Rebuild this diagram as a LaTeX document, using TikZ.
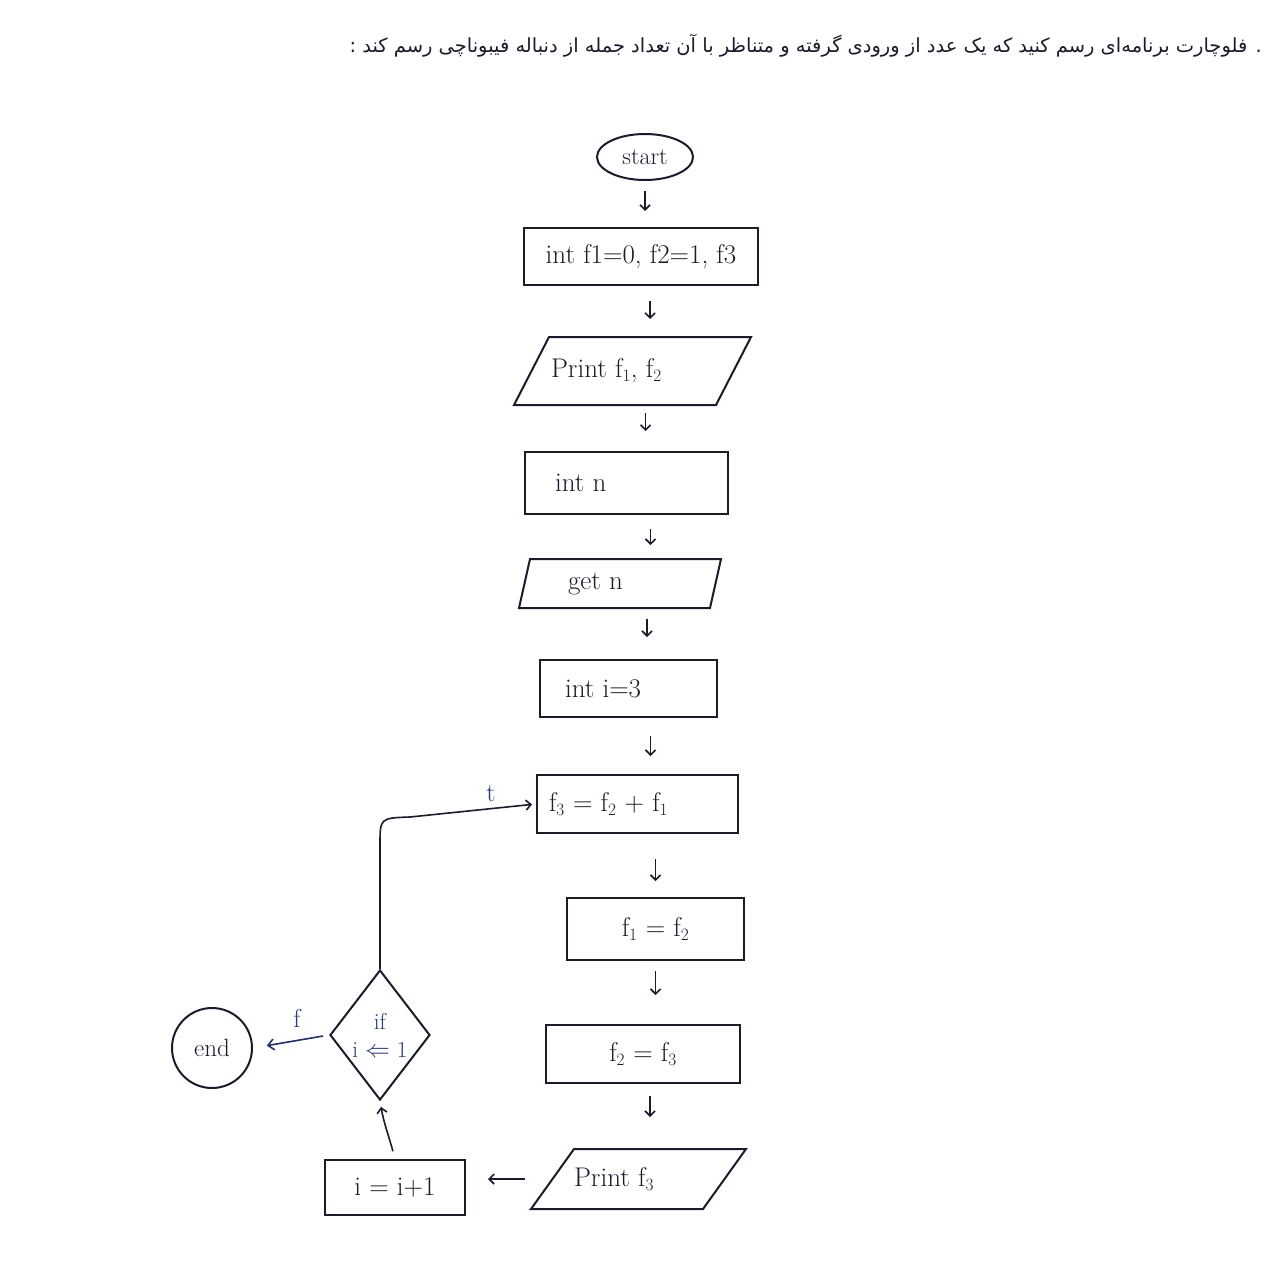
\documentclass[tikz,border=0pt]{standalone}
\usepackage{fontspec}
\usepackage{graphicx}
\newfontfamily\arabicfont[Script=Arabic]{DejaVu Sans}
\TeXXeTstate=1
\usetikzlibrary{shapes.geometric,arrows.meta}
\definecolor{ink}{RGB}{25,28,45}
\definecolor{pen}{RGB}{35,55,150}
\begin{document}
\begin{tikzpicture}[x=1pt,y=-1pt,
  line width=2pt,
  txt/.style={font=\fontsize{27}{30}\selectfont, text=ink},
  procbox/.style={draw=ink, rectangle, inner sep=0pt, txt},
  iobox/.style={rectangle, inner sep=0pt, txt},
  arr/.style={draw=ink, line width=1.6pt, -{Straight Barb[length=5pt,width=10pt]}},
  bluearr/.style={draw=pen!70!ink, line width=1.6pt, -{Straight Barb[length=6pt,width=11pt]}},
  lbl/.style={font=\fontsize{26}{28}\selectfont, text=pen}
]
\useasboundingbox[fill=white] (0,0) rectangle (1274,1280);

% heading
\node[anchor=east, text=ink] (title) at (1266,46)
  {\resizebox{912pt}{!}{\arabicfont\beginR . فلوچارت برنامه‌ای رسم کنید که یک عدد از ورودی گرفته و متناظر با آن تعداد جمله از دنباله فیبوناچی رسم کند :\endR}};

% nodes
\node[draw=ink, ellipse, minimum width=96pt, minimum height=46pt, inner sep=0pt,
      font=\fontsize{24}{26}\selectfont, text=ink] (start) at (645,157) {start};
\node[procbox, minimum width=234pt, minimum height=57pt] (init) at (641,256.5)
  {int f1=0, f2=1, f3};
\node[iobox, minimum width=235pt, minimum height=66pt] (p1) at (632.5,371)
  {\makebox[235pt][l]{\hspace*{36pt}Print f$_1$, f$_2$}};
\node[procbox, minimum width=203pt, minimum height=62pt] (intn) at (626.5,483)
  {\makebox[203pt][l]{\hspace*{30pt}int n}};
\node[iobox, minimum width=200pt, minimum height=47pt] (p2) at (620,583.5)
  {\makebox[200pt][l]{\hspace*{48pt}get n}};
\node[procbox, minimum width=177pt, minimum height=57pt] (inti) at (628.5,688.5)
  {\makebox[177pt][l]{\hspace*{25pt}int i=3}};
\node[procbox, minimum width=201pt, minimum height=58pt] (b6) at (637.5,804)
  {\makebox[201pt][l]{\hspace*{12pt}f$_3$ = f$_2$ + f$_1$}};
\node[procbox, minimum width=177pt, minimum height=62pt] (b7) at (655.5,929)
  {f$_1$ = f$_2$};
\node[procbox, minimum width=194pt, minimum height=58pt] (b8) at (643,1054)
  {f$_2$ = f$_3$};
\node[iobox, minimum width=213pt, minimum height=58pt] (p3) at (638.5,1179)
  {\makebox[213pt][l]{\hspace*{42pt}Print f$_3$}};
\node[procbox, minimum width=140pt, minimum height=55pt] (inc) at (395,1187.5)
  {i = i+1};
\node[draw=ink, diamond, minimum width=100pt, minimum height=130pt, inner sep=0pt,
      align=center, font=\fontsize{23}{26}\selectfont, text=pen] (dia) at (380,1035)
  {if\\[2pt] i $\Leftarrow$ 1};
\node[draw=ink, circle, minimum size=80pt, inner sep=0pt,
      font=\fontsize{25}{26}\selectfont, text=ink] (end) at (212,1048) {end};

% parallelogram outlines
\draw[ink] ([xshift=35pt]p1.north west) -- (p1.north east)
  -- ([xshift=-35pt]p1.south east) -- (p1.south west) -- cycle;
\draw[ink] ([xshift=11pt]p2.north west) -- (p2.north east)
  -- ([xshift=-11pt]p2.south east) -- (p2.south west) -- cycle;
\draw[ink] ([xshift=43pt]p3.north west) -- (p3.north east)
  -- ([xshift=-43pt]p3.south east) -- (p3.south west) -- cycle;

% flow arrows
\draw[arr, shorten <=10pt, shorten >=16pt] (start.south) -- (start.south |- init.north);
\draw[arr, shorten <=15pt, shorten >=18pt] ([xshift=9pt]init.south) -- ([xshift=9pt]init.south |- p1.north);
\draw[arr, shorten <=8pt, shorten >=20pt] ([xshift=13pt]p1.south) -- ([xshift=13pt]p1.south |- intn.north);
\draw[arr, shorten <=14pt, shorten >=14pt] ([xshift=24pt]intn.south) -- ([xshift=24pt]intn.south |- p2.north);
\draw[arr, shorten <=11pt, shorten >=22pt] ([xshift=27pt]p2.south) -- ([xshift=27pt]p2.south |- inti.north);
\draw[arr, shorten <=18pt, shorten >=18pt] ([xshift=22pt]inti.south) -- ([xshift=22pt]inti.south |- b6.north);
\draw[arr, shorten <=25pt, shorten >=16pt] ([xshift=18pt]b6.south) -- ([xshift=18pt]b6.south |- b7.north);
\draw[arr, shorten <=10pt, shorten >=29pt] (b7.south) -- (b7.south |- b8.north);
\draw[arr, shorten <=12pt, shorten >=32pt] ([xshift=7pt]b8.south) -- ([xshift=7pt]b8.south |- p3.north);
\draw[arr, shorten <=6pt, shorten >=22pt] (p3.west) -- (p3.west -| inc.east);
\draw[arr, shorten <=8pt, shorten >=6pt] (inc.north) to[out=105, in=-80] (dia.south);

% loop back (true) and exit (false)
\coordinate (lc) at (380,845);
\draw[arr, shorten >=4pt] (dia.north) -- (lc) .. controls (380,818) .. (410,817) -- (b6.west);
\node[lbl] (tlab) at (491,794) {t};
\draw[bluearr, shorten <=6pt, shorten >=14pt] (dia.west) -- (end.east);
\node[lbl] (flab) at (297,1018) {f};
\end{tikzpicture}
\end{document}
